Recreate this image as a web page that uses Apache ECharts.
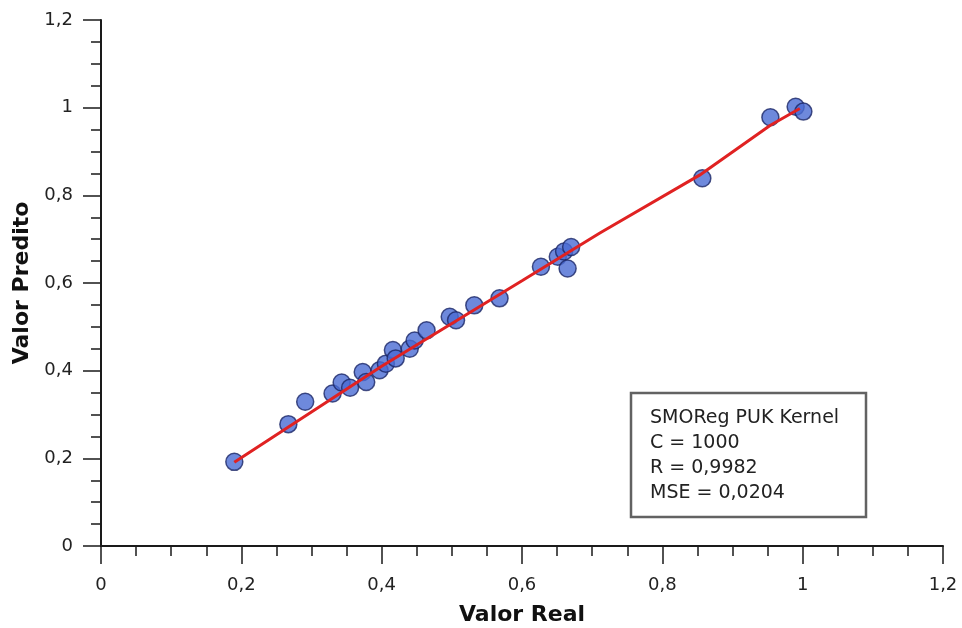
<!DOCTYPE html>
<html>
<head>
<meta charset="utf-8">
<script src="https://cdn.jsdelivr.net/npm/echarts@6/dist/echarts.min.js"></script>
<style>
  html, body { margin: 0; padding: 0; background: #fff; }
  #chart { width: 962px; height: 628px; }
</style>
</head>
<body>
<div id="chart"></div>
<script>
// valores
var valorReal = [0.190, 0.267, 0.291, 0.330, 0.343, 0.355, 0.373, 0.378, 0.397, 0.406,
                 0.416, 0.420, 0.440, 0.447, 0.464, 0.497, 0.506, 0.532, 0.568,
                 0.627, 0.651, 0.660, 0.670, 0.665, 0.857, 0.954, 0.990, 1.001];
var valorPredito = [0.192, 0.278, 0.329, 0.348, 0.373, 0.361, 0.397, 0.374, 0.401, 0.416,
                    0.447, 0.428, 0.450, 0.469, 0.492, 0.523, 0.515, 0.549, 0.565,
                    0.637, 0.660, 0.672, 0.682, 0.633, 0.839, 0.978, 1.002, 0.991];
// linha de ajuste (vermelha)
var ajusteX = [0.190, 0.400, 0.600, 0.711, 0.853, 0.954, 0.996];
var ajusteY = [0.191, 0.410, 0.605, 0.714, 0.846, 0.960, 0.998];
var legendaLinhas = ['SMOReg PUK Kernel', 'C = 1000', 'R = 0,9982', 'MSE = 0,0204'];

var pontos = valorReal.map(function (v, i) { return [v, valorPredito[i]]; });
var linha = ajusteX.map(function (v, i) { return [v, ajusteY[i]]; });

var fonte = 'DejaVu Sans';
function fmt(v) {
    return String(+v.toFixed(1)).replace('.', ',');
}
function eixo(nome, gap, horizontal) {
    return {
        type: 'value',
        min: 0,
        max: 1.2,
        interval: 0.2,
        name: nome,
        nameLocation: 'middle',
        nameGap: gap,
        nameTextStyle: { fontFamily: fonte, fontWeight: 'bold', fontSize: 22, color: '#111' },
        axisLine: { show: true, onZero: false, lineStyle: { color: '#1a1a1a', width: 2 } },
        axisTick: { show: true, inside: false, length: 18, lineStyle: { color: '#1a1a1a', width: 1.5 } },
        minorTick: { show: true, splitNumber: 4, length: 10, lineStyle: { color: '#1a1a1a', width: 1.5 } },
        splitLine: { show: false },
        axisLabel: {
            fontFamily: fonte, fontSize: 18, color: '#222',
            margin: horizontal ? 30 : 28,
            formatter: fmt
        }
    };
}

var myChart = echarts.init(document.getElementById('chart'));
var option = {
    backgroundColor: '#fff',
    animation: false,
    grid: { left: 101, right: 19, top: 20, bottom: 82, outerBoundsMode: 'none', containLabel: false },
    xAxis: eixo('Valor Real', 58, true),
    yAxis: eixo('Valor Predito', 56, false),
    series: [
        {
            type: 'scatter',
            data: pontos,
            symbolSize: 17,
            itemStyle: { color: '#4a6bd3', borderColor: '#1c2766', borderWidth: 1.5 },
            z: 2
        },
        {
            type: 'line',
            data: linha,
            symbol: 'none',
            lineStyle: { color: '#e02222', width: 3 },
            z: 3
        }
    ],
    graphic: [
        {
            type: 'rect',
            shape: { x: 631, y: 393, width: 235, height: 124 },
            style: { fill: '#fff', stroke: '#626262', lineWidth: 2.5 },
            z: 10
        },
        {
            type: 'text',
            style: {
                x: 650, y: 405,
                text: legendaLinhas.join('\n'),
                fontFamily: fonte, fontSize: 19, lineHeight: 25.3,
                fill: '#222'
            },
            z: 11
        }
    ]
};
myChart.setOption(option);
</script>
</body>
</html>
